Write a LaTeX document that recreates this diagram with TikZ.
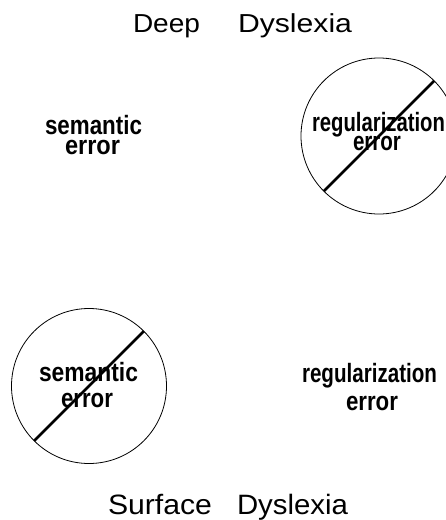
\documentclass[tikz,border=0pt]{standalone}
\usepackage{fontspec}
\setmainfont{Liberation Sans}
\usepackage{graphicx}
\newcommand{\fitw}[2]{\resizebox{#1pt}{\height}{#2}}
\tikzset{
  lbl/.style={inner sep=0pt, outer sep=0pt, anchor=base west,
    font=\bfseries\fontsize{26.5}{26.5}\selectfont},
  ttl/.style={inner sep=0pt, outer sep=0pt, anchor=base west,
    font=\fontsize{26}{26}\selectfont},
  ttlb/.style={inner sep=0pt, outer sep=0pt, anchor=base west,
    font=\fontsize{28}{28}\selectfont},
  ring/.style={circle, draw, line width=0.8pt, inner sep=0pt, outer sep=0pt},
  slash/.style={line width=2.8pt}
}
\begin{document}
\begin{tikzpicture}[x=1pt,y=-1pt]
\useasboundingbox (0,0) rectangle (446,520);
\clip (0,0) rectangle (446,520);
% titles
\node[ttl] (deep) at (133,32) {\fitw{67}{Deep}};
\node[ttl] (dys1) at (238,32) {\fitw{114}{Dyslexia}};
\node[ttlb] (surf) at (108,514) {\fitw{104}{Surface}};
\node[ttlb] (dys2) at (237,514) {\fitw{111}{Dyslexia}};
% top-left
\node[lbl] (sem1) at (45,134) {\fitw{97}{semantic}};
\node[lbl] (err1) at (65,154) {\fitw{55}{error}};
% top-right (crossed out)
\node[ring, minimum size=156pt] (c1) at (379,136) {};
\node[lbl] (reg1) at (312,131) {\fitw{133}{regularization}};
\node[lbl] (err2) at (353,150) {\fitw{48}{error}};
\draw[slash] (c1.225) -- (c1.45);
% bottom-left (crossed out)
\node[ring, minimum size=155pt] (c2) at (89,386) {};
\node[lbl] (sem2) at (39,381) {\fitw{99}{semantic}};
\node[lbl] (err3) at (61,407) {\fitw{52}{error}};
\draw[slash] (c2.225) -- (c2.45);
% bottom-right
\node[lbl] (reg2) at (302,382) {\fitw{135}{regularization}};
\node[lbl] (err4) at (346,410) {\fitw{52}{error}};
\end{tikzpicture}
\end{document}
